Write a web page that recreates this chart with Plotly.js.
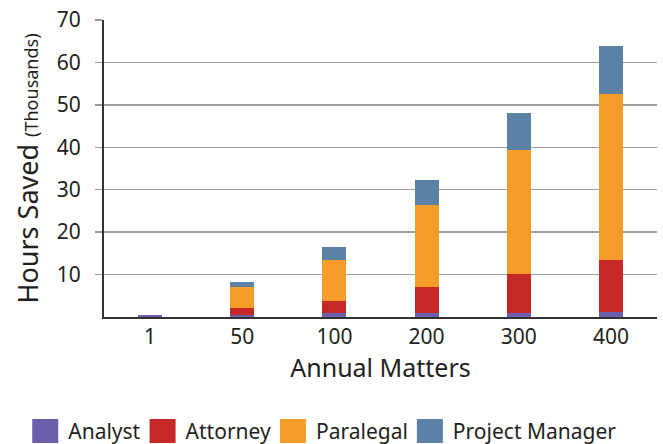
<!DOCTYPE html>
<html>
<head>
<meta charset="utf-8">
<script src="https://cdn.plot.ly/plotly-3.0.1.min.js"></script>
<style>
  html, body { margin: 0; padding: 0; background: #fff; }
  #chart { width: 663px; height: 444px; }
</style>
</head>
<body>
<div id="chart"></div>
<script>
const categories = ['1', '50', '100', '200', '300', '400'];
const analyst = [0.4, 0.4, 1.0, 1.0, 1.0, 1.25];
const attorney = [0, 1.7, 2.8, 6.15, 9.1, 12.15];
const paralegal = [0, 5.0, 9.6, 19.25, 29.3, 39.2];
const projectManager = [0, 1.15, 3.1, 5.9, 8.7, 11.3];
const yTickVals = [10, 20, 30, 40, 50, 60, 70];

const FONT = '"Noto Sans", "Open Sans", sans-serif';
const INK = '#231f20';

function series(name, values, color) {
  return {
    type: 'bar', name: name, x: categories, y: values,
    marker: { color: color, line: { width: 0 } },
    hoverinfo: 'x+y+name'
  };
}

const data = [
  series('Analyst', analyst, '#6a5fab'),
  series('Attorney', attorney, '#c62828'),
  series('Paralegal', paralegal, '#f69c2b'),
  series('Project Manager', projectManager, '#5b82a5')
];

const layout = {
  width: 663, height: 444,
  barmode: 'stack',
  bargap: 0.74,
  margin: { l: 104, r: 6, t: 20, b: 127, autoexpand: false },
  paper_bgcolor: '#ffffff', plot_bgcolor: '#ffffff',
  font: { family: FONT, color: INK },
  showlegend: true,
  legend: {
    orientation: 'h',
    xref: 'paper', yref: 'paper',
    x: -0.137, xanchor: 'left', y: -0.385, yanchor: 'middle',
    font: { family: FONT, size: 21, color: INK },
    traceorder: 'normal',
    bgcolor: 'rgba(0,0,0,0)',
    itemclick: false, itemdoubleclick: false
  },
  xaxis: {
    type: 'category',
    range: [-0.5, 5.5],
    showline: true, linecolor: '#333333', linewidth: 2,
    ticks: '', showgrid: false, zeroline: false,
    tickfont: { family: FONT, size: 21, color: INK },
    title: { text: 'Annual Matters', font: { family: FONT, size: 25, color: INK }, standoff: 8 }
  },
  yaxis: {
    range: [0, 70],
    tickvals: yTickVals,
    showline: true, linecolor: '#333333', linewidth: 2,
    ticks: 'outside', ticklen: 7, tickwidth: 1.5, tickcolor: '#999999',
    ticklabelstandoff: 10,
    showgrid: true, gridcolor: '#9e9e9e', gridwidth: 1.5,
    zeroline: false,
    tickfont: { family: FONT, size: 21, color: INK },
    title: {
      text: 'Hours Saved <span style="font-size:18px">(Thousands)</span>',
      font: { family: FONT, size: 27, color: INK }, standoff: 10
    }
  }
};

function enlargeLegendSymbols(gd) {
  gd.querySelectorAll('.legend .legendpoints path').forEach(function (p) {
    p.setAttribute('d', 'M10,12H-16V-12H10Z');
    p.style.strokeWidth = '0px';
  });
}

Plotly.newPlot('chart', data, layout, { displayModeBar: false, staticPlot: true }).then(function (gd) {
  enlargeLegendSymbols(gd);
});
</script>
</body>
</html>
